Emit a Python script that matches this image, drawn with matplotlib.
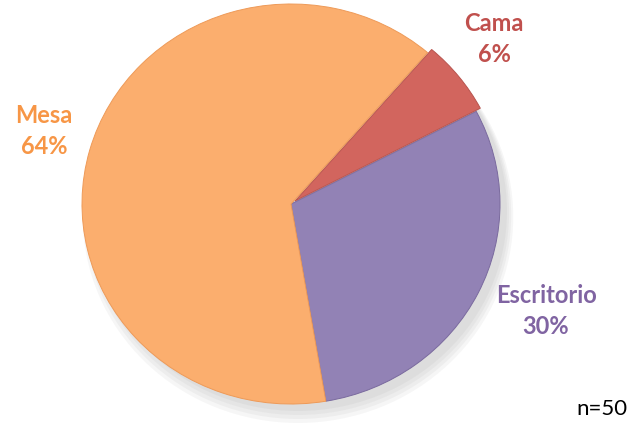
import matplotlib
matplotlib.use("Agg")
import matplotlib.pyplot as plt
from matplotlib.patches import Ellipse

categories = ["Escritorio", "Cama", "Mesa"]
values = [30, 6, 64]
label_texts = ["Escritorio\n30%", "Cama\n6%", "Mesa\n64%"]
fill_colors = ["#9282B5", "#D2655E", "#FBAE6E"]
edge_colors = ["#7A6A9E", "#B8544E", "#EE9A58"]
text_colors = ["#8064A2", "#C0504D", "#F79646"]
explode = [0, 0.025, 0]
note = "n=50"

W, H = 629, 427
fig = plt.figure(figsize=(W / 100, H / 100), dpi=100)
ax = fig.add_axes([0, 0, 1, 1])

cx, cy, rx, ry = 291, 205, 209, 200

# soft shadow
for i in range(4):
    ax.add_patch(Ellipse((7 / rx, -(7 + i * 2) / ry), 2 + i * 0.02, 2 + i * 0.02,
                         facecolor="#555555", alpha=0.05, edgecolor="none", zorder=0))

wedges, _ = ax.pie(values, colors=fill_colors, startangle=-80.4, counterclock=True,
                   explode=explode, radius=1.0,
                   wedgeprops=dict(linewidth=0.7))
for w, ec in zip(wedges, edge_colors):
    w.set_edgecolor(ec)
    w.set_zorder(2)

ax.set_aspect("auto")
ax.set_xlim(-cx / rx, (W - cx) / rx)
ax.set_ylim((cy - H) / ry, cy / ry)
ax.axis("off")

fam = ["Lato", "DejaVu Sans"]
label_pos = [(546, 311), (494, 39), (44, 131)]
for txt, col, (px, py) in zip(label_texts, text_colors, label_pos):
    ax.text((px - cx) / rx, (cy - py) / ry, txt, color=col, fontsize=17,
            fontweight="bold", family=fam, ha="center", va="center",
            linespacing=1.38)

ax.text((W - 2 - cx) / rx, (cy - 409) / ry, note, color="black", fontsize=16,
        family=fam, ha="right", va="center")

fig.savefig("out.png", dpi=100)
